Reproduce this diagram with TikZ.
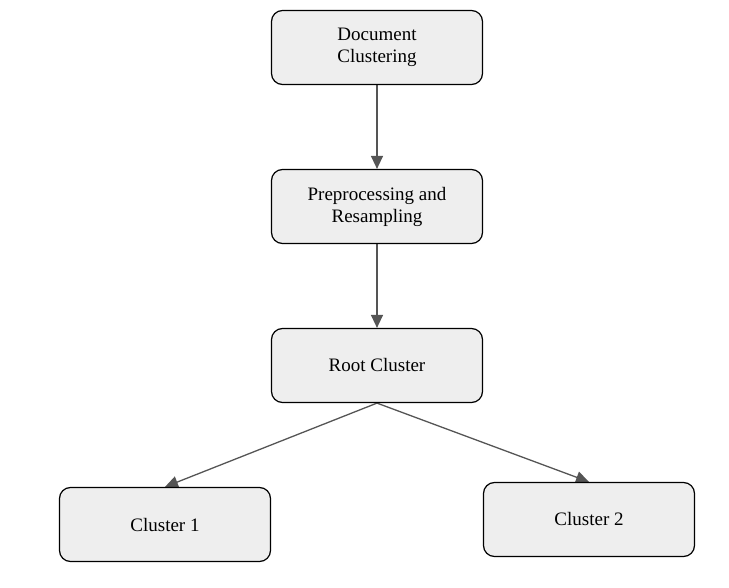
\documentclass[tikz,border=0pt]{standalone}
\usepackage{fontspec}
\setmainfont{Liberation Serif}
\usepackage{tikz}
\usetikzlibrary{arrows.meta}
\pgfdeclarelayer{nodelayer}
\pgfdeclarelayer{edgelayer}
\pgfsetlayers{edgelayer,nodelayer,main}
\definecolor{boxfill}{HTML}{EEEEEE}
\definecolor{edgegray}{HTML}{555555}
\tikzset{
  stagebox/.style={rectangle, rounded corners=11pt, draw=black, line width=1.2pt, fill=boxfill,
    minimum width=211pt, minimum height=74pt, align=center, font=\fontsize{19}{22}\selectfont},
  flow/.style={draw=edgegray, line width=1.3pt, -{Triangle[length=13pt,width=12pt]}}
}
\begin{document}
\begin{tikzpicture}[x=1pt, y=-1pt]
  \useasboundingbox (0,0) rectangle (729,588);
  \begin{pgfonlayer}{nodelayer}
    \node [stagebox] (0) at (377, 47.5) {Document\\Clustering};
    \node [stagebox] (1) at (377, 206.5) {Preprocessing and\\Resampling};
    \node [stagebox] (2) at (377, 365.5) {Root Cluster};
    \node [stagebox] (3) at (165, 524.5) {Cluster 1};
    \node [stagebox] (4) at (589, 519.5) {Cluster 2};
  \end{pgfonlayer}
  \begin{pgfonlayer}{edgelayer}
    \draw [flow] (0.south) to (1.north);
    \draw [flow] (1.south) to (2.north);
    \draw [flow] (2.south) to (3.north);
    \draw [flow] (2.south) to (4.north);
  \end{pgfonlayer}
\end{tikzpicture}
\end{document}
